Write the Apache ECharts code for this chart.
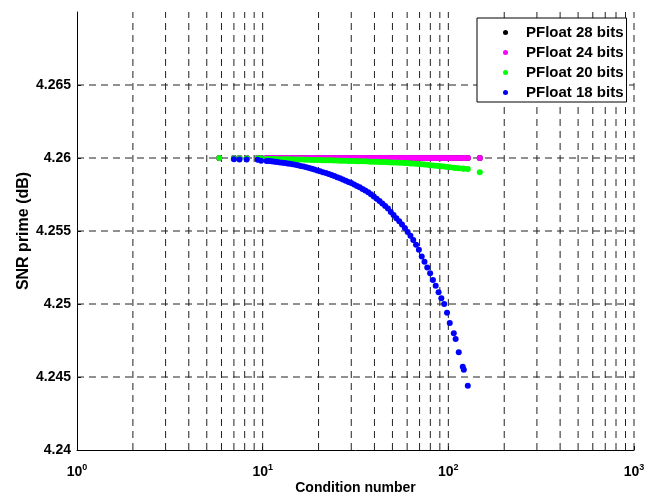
<!DOCTYPE html>
<html>
<head>
<meta charset="utf-8">
<script src="https://cdn.jsdelivr.net/npm/echarts@6/dist/echarts.min.js"></script>
<style>
html,body{margin:0;padding:0;background:#fff;}
#chart{width:653px;height:502px;}
</style>
</head>
<body>
<div id="chart"></div>
<script>
// Condition numbers (x) shared by all series
const condition = [
  5.84, 7.0, 7.5, 8.2, 9.4, 9.8,
  10.5, 10.8, 11.1, 11.4, 11.7, 12.0, 12.4, 12.8, 13.2, 13.6,
  14.0, 14.5, 15.0, 15.5, 16.0, 16.6, 17.2, 17.8, 18.4, 19.0,
  19.7, 20.4, 21.1, 21.9, 22.7, 23.5, 24.3, 25.2, 26.1, 27.0,
  28.0, 29.0, 30.0, 31.1, 32.2, 33.3, 34.5, 35.7, 37.0, 38.3,
  39.7, 41.1, 42.6, 44.1, 45.7, 47.3, 49.0, 50.7, 52.5, 54.4,
  56.3, 58.3, 60.4, 62.5, 64.7, 67.0, 69.4, 71.9, 74.4, 77.0,
  79.8, 82.6, 85.5, 88.6, 91.7, 95.0, 98.4,
  101.8, 107.0, 109.5, 113.8, 119.6, 121.2, 127.3, 147.7
];

// SNR prime (dB) per series
const snr28 = [
  4.26, 4.26, 4.26, 4.26, 4.26, 4.26,
  4.26, 4.26, 4.26, 4.26, 4.26, 4.26, 4.26, 4.26, 4.26, 4.26,
  4.26, 4.26, 4.26, 4.26, 4.26, 4.26, 4.26, 4.26, 4.26, 4.26,
  4.26, 4.26, 4.26, 4.26, 4.26, 4.26, 4.26, 4.26, 4.26, 4.26,
  4.26, 4.26, 4.26, 4.26, 4.26, 4.26, 4.26, 4.26, 4.26, 4.26,
  4.26, 4.26, 4.26, 4.26, 4.26, 4.26, 4.26, 4.26, 4.26, 4.26,
  4.26, 4.26, 4.26, 4.26, 4.26, 4.26, 4.26, 4.26, 4.26, 4.26,
  4.26, 4.26, 4.26, 4.26, 4.26, 4.26, 4.26,
  4.26, 4.26, 4.26, 4.26, 4.26, 4.26, 4.26, 4.26
];
const snr24 = [
  4.26, 4.26, 4.26, 4.26, 4.26, 4.26,
  4.26, 4.26, 4.26, 4.26, 4.26, 4.26, 4.26, 4.26, 4.26, 4.26,
  4.26, 4.26, 4.26, 4.26, 4.26, 4.26, 4.26, 4.26, 4.26, 4.26,
  4.26, 4.26, 4.26, 4.26, 4.26, 4.26, 4.26, 4.26, 4.26, 4.26,
  4.26, 4.26, 4.26, 4.26, 4.26, 4.26, 4.26, 4.26, 4.26, 4.26,
  4.26, 4.26, 4.26, 4.26, 4.26, 4.26, 4.26, 4.26, 4.26, 4.26,
  4.26, 4.26, 4.26, 4.26, 4.26, 4.26, 4.26, 4.26, 4.26, 4.26,
  4.26, 4.26, 4.26, 4.26, 4.26, 4.26, 4.26,
  4.26, 4.26, 4.26, 4.26, 4.26, 4.26, 4.26, 4.26
];
const snr20 = [
  4.26, 4.25999, 4.25999, 4.25999, 4.25999, 4.25999,
  4.25994, 4.25994, 4.25993, 4.25993, 4.25993, 4.25992, 4.25992, 4.25992, 4.25991, 4.25991,
  4.25991, 4.25990, 4.25990, 4.25990, 4.25989, 4.25989, 4.25988, 4.25988, 4.25987, 4.25987,
  4.25986, 4.25986, 4.25985, 4.25985, 4.25984, 4.25984, 4.25983, 4.25983, 4.25982, 4.25982,
  4.25981, 4.25980, 4.25980, 4.25979, 4.25978, 4.25978, 4.25977, 4.25977, 4.25976, 4.25975,
  4.25974, 4.25974, 4.25973, 4.25972, 4.25972, 4.25971, 4.25970, 4.25970, 4.25969, 4.25968,
  4.25967, 4.25966, 4.25965, 4.25963, 4.25962, 4.25960, 4.25959, 4.25957, 4.25955, 4.25953,
  4.25951, 4.25949, 4.25947, 4.25945, 4.25943, 4.25941, 4.25939,
  4.25937, 4.25934, 4.25932, 4.25930, 4.25928, 4.25927, 4.25925, 4.25903
];
const snr18 = [
  null, 4.25992, 4.25990, 4.25990, 4.25988, 4.25982,
  4.25980, 4.25979, 4.25977, 4.25976, 4.25974, 4.25972, 4.25970, 4.25967, 4.25965, 4.25962,
  4.25960, 4.25957, 4.25953, 4.25950, 4.25946, 4.25942, 4.25937, 4.25932, 4.25927, 4.25922,
  4.25915, 4.25909, 4.25903, 4.25897, 4.25890, 4.25883, 4.25876, 4.25869, 4.25861, 4.25853,
  4.25845, 4.25836, 4.25828, 4.25818, 4.25809, 4.25799, 4.25788, 4.25777, 4.25765, 4.25751,
  4.25736, 4.25721, 4.25705, 4.25689, 4.25672, 4.25654, 4.25630, 4.25610, 4.25588, 4.25566,
  4.25544, 4.25520, 4.25494, 4.25467, 4.25438, 4.25406, 4.25372, 4.25325, 4.25290, 4.25250,
  4.25210, 4.25165, 4.25125, 4.25080, 4.25040, 4.25000, 4.24940,
  4.24870, 4.24800, 4.24760, 4.24670, 4.24570, 4.24550, 4.24440, null
];

const seriesNames = ['PFloat 28 bits', 'PFloat 24 bits', 'PFloat 20 bits', 'PFloat 18 bits'];
const seriesColors = ['#000000', '#ff00ff', '#00ff00', '#0000ff'];
const seriesValues = [snr28, snr24, snr20, snr18];

// grid lines (log decades with 2..9 subdivisions) and y ticks
const xGridValues = [2,3,4,5,6,7,8,9,10,20,30,40,50,60,70,80,90,100,200,300,400,500,600,700,800,900,1000];
const yGridValues = [4.245, 4.25, 4.255, 4.26, 4.265];
const xMin = 1, xMax = 1000;
const yMin = 4.24, yMax = 4.27, yStep = 0.005;

const FONT = 'Liberation Sans';

function pairs(xs, ys) {
  const out = [];
  for (let i = 0; i < xs.length; i++) {
    if (ys[i] !== null) out.push([xs[i], ys[i]]);
  }
  return out;
}

const gridLineStyle = { color: '#222', width: 1, type: [7, 5] };

const gridSeries = [];
xGridValues.forEach(v => {
  gridSeries.push({
    type: 'line', silent: true, symbol: 'none', z: 1,
    lineStyle: gridLineStyle,
    data: [[v, yMin], [v, yMax]]
  });
});
yGridValues.forEach(v => {
  gridSeries.push({
    type: 'line', silent: true, symbol: 'none', z: 1,
    lineStyle: gridLineStyle,
    data: [[xMin, v], [xMax, v]]
  });
});

const dataSeries = seriesNames.map((name, i) => ({
  name: name,
  type: 'scatter',
  symbol: 'circle',
  symbolSize: 6,
  itemStyle: { color: seriesColors[i], opacity: 1 },
  data: pairs(condition, seriesValues[i]),
  z: 3 + i
}));

const chart = echarts.init(document.getElementById('chart'), null, { renderer: 'canvas' });
chart.setOption({
  animation: false,
  backgroundColor: '#ffffff',
  textStyle: { fontFamily: FONT },
  grid: { left: 77, right: 19, top: 12, bottom: 52, containLabel: false, outerBoundsMode: 'none' },
  xAxis: {
    type: 'log',
    logBase: 10,
    min: xMin,
    max: xMax,
    name: 'Condition number',
    nameLocation: 'middle',
    nameGap: 31,
    nameMoveOverlap: false,
    nameTextStyle: { fontFamily: FONT, fontWeight: 'bold', fontSize: 14, color: '#000' },
    axisLine: { show: true, lineStyle: { color: '#000', width: 1 } },
    axisTick: { show: true, inside: true, length: 4, lineStyle: { color: '#000' } },
    splitLine: { show: false },
    axisLabel: {
      margin: 13,
      color: '#000',
      formatter: v => '{b|10}{s|' + Math.round(Math.log10(v)) + '}',
      rich: {
        b: { fontFamily: FONT, fontWeight: 'bold', fontSize: 14, color: '#000', lineHeight: 18 },
        s: { fontFamily: FONT, fontWeight: 'bold', fontSize: 9, color: '#000', lineHeight: 18, verticalAlign: 'top', padding: [0, 0, 10, 0] }
      }
    }
  },
  yAxis: {
    type: 'value',
    min: yMin,
    max: yMax,
    interval: yStep,
    name: 'SNR prime (dB)',
    nameLocation: 'middle',
    nameGap: 45,
    nameMoveOverlap: false,
    nameTextStyle: { fontFamily: FONT, fontWeight: 'bold', fontSize: 16, color: '#000' },
    axisLine: { show: true, lineStyle: { color: '#000', width: 1 } },
    axisTick: { show: true, inside: true, length: 4, lineStyle: { color: '#000' } },
    splitLine: { show: false },
    axisLabel: {
      margin: 6,
      color: '#000',
      fontFamily: FONT,
      fontWeight: 'bold',
      fontSize: 14,
      showMaxLabel: false,
      formatter: v => String(Number(v.toFixed(3)))
    }
  },
  legend: {
    orient: 'vertical',
    left: 477,
    top: 18,
    data: seriesNames.map((n, i) => ({ name: n, icon: 'circle', itemStyle: { color: seriesColors[i] } })),
    itemWidth: 31,
    itemHeight: 5,
    itemGap: 5,
    padding: [7, 3, 2, 26],
    backgroundColor: '#ffffff',
    borderColor: '#000',
    borderWidth: 1,
    borderRadius: 0,
    selectedMode: false,
    textStyle: { fontFamily: FONT, fontWeight: 'bold', fontSize: 15, color: '#000', lineHeight: 14 }
  },
  series: gridSeries.concat(dataSeries)
});
</script>
</body>
</html>
